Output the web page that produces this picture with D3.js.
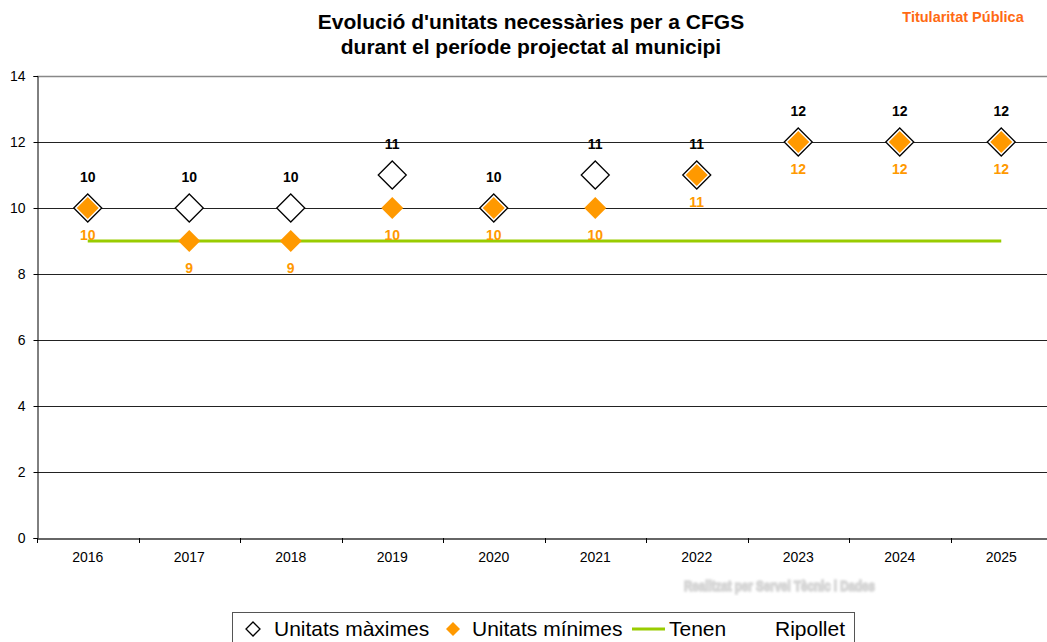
<!DOCTYPE html>
<html>
<head>
<meta charset="utf-8">
<script src="https://cdn.jsdelivr.net/npm/d3@7"></script>
<style>
  html, body { margin: 0; padding: 0; background: #fff; }
  svg { display: block; font-family: "Liberation Sans", Arial, sans-serif; }
</style>
</head>
<body>
<svg id="chart" width="1047" height="642"></svg>
<script>
// Years and series
const years = ["2016", "2017", "2018", "2019", "2020", "2021", "2022", "2023", "2024", "2025"];
const maxUnits = [10, 10, 10, 11, 10, 11, 11, 12, 12, 12];
const minUnits = [10, 9, 9, 10, 10, 10, 11, 12, 12, 12];
const current = [9, 9, 9, 9, 9, 9, 9, 9, 9, 9];
const yTicks = [0, 2, 4, 6, 8, 10, 12, 14];

const titleLines = ["Evolució d'unitats necessàries per a CFGS", "durant el període projectat al municipi"];
const ORANGE = "#ff9900", GREEN = "#99cc00";

const svg = d3.select("#chart");
const plot = { left: 37, right: 1052, top: 76, bottom: 538 };

const x = d3.scaleBand().domain(years).range([plot.left, plot.right]);
const y = d3.scaleLinear().domain([0, 14]).range([plot.bottom, plot.top]);
const cx = d => x(d) + x.bandwidth() / 2;

// Title
svg.append("text").attr("x", 531).attr("y", 29).attr("text-anchor", "middle")
  .style("font-size", "21px").style("font-weight", "bold").attr("fill", "#000")
  .selectAll("tspan").data(titleLines).join("tspan")
  .attr("x", 531).attr("dy", (d, i) => i ? 25 : 0).text(d => d);

svg.append("text").attr("x", 963).attr("y", 22).attr("text-anchor", "middle")
  .style("font-size", "14.5px").style("font-weight", "bold").attr("fill", "#ff6a13")
  .text("Titularitat Pública");

// Horizontal gridlines
svg.append("g").selectAll("line").data(yTicks.filter(t => t > 0)).join("line")
  .attr("x1", plot.left).attr("x2", 1047)
  .attr("y1", d => Math.round(y(d)) + 0.5).attr("y2", d => Math.round(y(d)) + 0.5)
  .attr("stroke", d => d === 14 ? "#888" : "#222").attr("stroke-width", d => d === 14 ? 1.5 : 1);

// Y axis
const yAxis = svg.append("g").attr("transform", `translate(${plot.left + 0.5},0)`)
  .call(d3.axisLeft(y).tickValues(yTicks).tickSize(4).tickPadding(8));
yAxis.select(".domain").attr("stroke", "#000");
yAxis.selectAll(".tick line").attr("stroke", "#000");
yAxis.selectAll("text").style("font-size", "14px").attr("fill", "#000")
  .style("font-family", "'Liberation Sans', Arial, sans-serif");

// X axis
const xAxis = svg.append("g").attr("transform", `translate(0,${plot.bottom + 0.5})`)
  .call(d3.axisBottom(x).tickSize(0).tickPadding(14));
xAxis.select(".domain").attr("stroke", "#333").attr("stroke-width", 1.5);
xAxis.selectAll("text").style("font-size", "14px").attr("fill", "#000")
  .style("font-family", "'Liberation Sans', Arial, sans-serif");
svg.append("g").selectAll("line").data(years.map((d, i) => i).concat([years.length]))
  .join("line")
  .attr("x1", i => Math.round(plot.left + i * x.bandwidth()) + 0.5)
  .attr("x2", i => Math.round(plot.left + i * x.bandwidth()) + 0.5)
  .attr("y1", plot.bottom).attr("y2", plot.bottom + 5).attr("stroke", "#000");

// Current units line
svg.append("path").datum(current)
  .attr("d", d3.line().x((d, i) => cx(years[i])).y(d => y(d)))
  .attr("fill", "none").attr("stroke", GREEN).attr("stroke-width", 3);

const diamond = r => `M0,${-r}L${r},0L0,${r}L${-r},0Z`;

// Maximum units: hollow diamonds
svg.append("g").selectAll("path").data(maxUnits).join("path")
  .attr("transform", (d, i) => `translate(${cx(years[i])},${y(d)})`)
  .attr("d", diamond(14)).attr("fill", "#fff").attr("stroke", "#000").attr("stroke-width", 1.3);

// Minimum units: filled orange diamonds
svg.append("g").selectAll("path").data(minUnits).join("path")
  .attr("transform", (d, i) => `translate(${cx(years[i])},${y(d)})`)
  .attr("d", diamond(11)).attr("fill", ORANGE);

// Value labels
svg.append("g").selectAll("text").data(maxUnits).join("text")
  .attr("x", (d, i) => cx(years[i])).attr("y", d => y(d) - 26)
  .attr("text-anchor", "middle").style("font-size", "14px").style("font-weight", "bold")
  .attr("fill", "#000").text(d => d);

svg.append("g").selectAll("text").data(minUnits).join("text")
  .attr("x", (d, i) => cx(years[i])).attr("y", d => y(d) + 32)
  .attr("text-anchor", "middle").style("font-size", "14px").style("font-weight", "bold")
  .attr("fill", ORANGE).text(d => d);

// Faint credit line
const defs = svg.append("defs");
defs.append("filter").attr("id", "soft").append("feGaussianBlur").attr("stdDeviation", 0.8);
svg.append("text").attr("x", 684).attr("y", 591).attr("textLength", 191)
  .attr("lengthAdjust", "spacingAndGlyphs")
  .style("font-size", "15px").style("font-weight", "bold").attr("fill", "#d6d6d6")
  .attr("stroke", "#d6d6d6").attr("stroke-width", 1.6)
  .attr("filter", "url(#soft)").text("Realitzat per Servei Tècnic i Dades");

// Legend
const lg = svg.append("g");
lg.append("rect").attr("x", 232.5).attr("y", 612.5).attr("width", 622).attr("height", 40)
  .attr("fill", "#fff").attr("stroke", "#555");
lg.append("path").attr("transform", "translate(253,629)").attr("d", diamond(7))
  .attr("fill", "#fff").attr("stroke", "#000").attr("stroke-width", 1.3);
lg.append("path").attr("transform", "translate(453,629)").attr("d", diamond(7))
  .attr("fill", ORANGE);
lg.append("line").attr("x1", 632).attr("x2", 665).attr("y1", 629).attr("y2", 629)
  .attr("stroke", GREEN).attr("stroke-width", 3);
const legendItems = [
  { label: "Unitats màximes", x: 274 },
  { label: "Unitats mínimes", x: 472 },
  { label: "Tenen", x: 669 },
  { label: "Ripollet", x: 775 }
];
lg.selectAll("text.item").data(legendItems).join("text").attr("class", "item")
  .attr("x", d => d.x).attr("y", 636).style("font-size", "21px").attr("fill", "#000")
  .text(d => d.label);
</script>
</body>
</html>
